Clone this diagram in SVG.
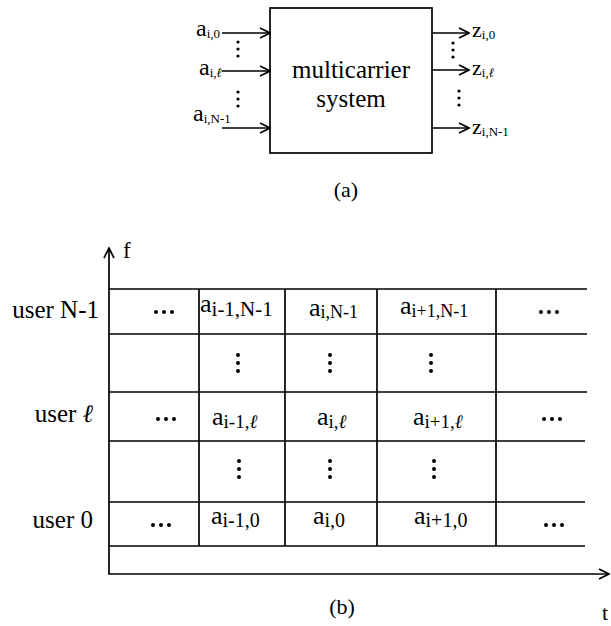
<svg xmlns="http://www.w3.org/2000/svg" width="611" height="626" viewBox="0 0 611 626" font-family="'Liberation Serif', 'DejaVu Serif', serif">
  <style>
    text { font-family: 'Liberation Serif', 'DejaVu Serif', serif; fill: #000; }
    .ln { stroke: #000; stroke-width: 1.7; fill: none; }
    .arr { stroke: #000; stroke-width: 1.7; fill: none; marker-end: url(#head); }
    .dot { fill: #000; }
    .it { font-style: italic; }
  </style>
  <defs>
    <marker id="head" viewBox="0 0 12 12" refX="11" refY="6" markerWidth="12" markerHeight="12" markerUnits="userSpaceOnUse" orient="auto">
      <path d="M1,1 L11,6 L1,11" fill="none" stroke="#000" stroke-width="1.7"/>
    </marker>
    <g id="hdots">
      <circle class="dot" cx="-8" cy="0" r="2"/>
      <circle class="dot" cx="0" cy="0" r="2"/>
      <circle class="dot" cx="8" cy="0" r="2"/>
    </g>
    <g id="vdots">
      <circle class="dot" cx="0" cy="-8" r="2"/>
      <circle class="dot" cx="0" cy="0" r="2"/>
      <circle class="dot" cx="0" cy="8" r="2"/>
    </g>
    <g id="vdots-s">
      <circle class="dot" cx="0" cy="-7" r="1.6"/>
      <circle class="dot" cx="0" cy="0" r="1.6"/>
      <circle class="dot" cx="0" cy="7" r="1.6"/>
    </g>
  </defs>
  <rect width="611" height="626" fill="#fff"/>

  <!-- (a) multicarrier system block -->
  <g id="system">
    <rect class="ln" x="270" y="8" width="162" height="145"/>
    <text x="351" y="78" font-size="25" text-anchor="middle">multicarrier</text>
    <text x="351" y="107" font-size="25" text-anchor="middle">system</text>
  </g>
  <g id="inputs">
    <text x="196" y="36" font-size="24">a<tspan font-size="13" dy="2">i,0</tspan></text>
    <text x="199" y="75" font-size="24">a<tspan font-size="13" dy="2">i,<tspan class="it">ℓ</tspan></tspan></text>
    <text x="193" y="121" font-size="24">a<tspan font-size="13" dy="2">i,N-1</tspan></text>
    <use href="#vdots-s" x="238" y="49"/>
    <use href="#vdots-s" x="238" y="99"/>
  </g>
  <g id="outputs">
    <text x="472" y="37" font-size="22">z<tspan font-size="13" dy="2">i,0</tspan></text>
    <text x="472" y="75" font-size="22">z<tspan font-size="13" dy="2">i,<tspan class="it">ℓ</tspan></tspan></text>
    <text x="472" y="134" font-size="22">z<tspan font-size="13" dy="2">i,N-1</tspan></text>
    <use href="#vdots-s" x="453" y="50"/>
    <use href="#vdots-s" x="459" y="98"/>
  </g>
  <g id="connectors">
    <line class="arr" x1="222" y1="33" x2="270" y2="33"/>
    <line class="arr" x1="222" y1="71" x2="270" y2="71"/>
    <line class="arr" x1="222" y1="128" x2="270" y2="128"/>
    <line class="arr" x1="432" y1="33" x2="469" y2="33"/>
    <line class="arr" x1="432" y1="70" x2="469" y2="70"/>
    <line class="arr" x1="432" y1="128" x2="469" y2="128"/>
  </g>
  <text x="346" y="197" font-size="22" text-anchor="middle">(a)</text>

  <!-- (b) time-frequency grid -->
  <g id="axes">
    <line class="arr" x1="109" y1="574" x2="109" y2="248"/>
    <line class="arr" x1="108.2" y1="574" x2="609" y2="574"/>
    <text x="123" y="258" font-size="23">f</text>
    <text x="602" y="620" font-size="22">t</text>
  </g>
  <g id="grid">
    <line class="ln" x1="109" y1="289" x2="587" y2="289"/>
    <line class="ln" x1="109" y1="334" x2="587" y2="334"/>
    <line class="ln" x1="109" y1="392" x2="587" y2="392"/>
    <line class="ln" x1="109" y1="441" x2="585" y2="441"/>
    <line class="ln" x1="109" y1="502" x2="585" y2="502"/>
    <line class="ln" x1="109" y1="546" x2="585" y2="546"/>
    <line class="ln" x1="199" y1="289" x2="199" y2="546"/>
    <line class="ln" x1="285" y1="289" x2="285" y2="546"/>
    <line class="ln" x1="377" y1="289" x2="377" y2="546"/>
    <line class="ln" x1="496" y1="289" x2="496" y2="546"/>
  </g>
  <g id="users">
    <text x="99" y="318" font-size="25" text-anchor="end">user N-1</text>
    <text x="93" y="422" font-size="25" text-anchor="end">user <tspan class="it">ℓ</tspan></text>
    <text x="93" y="528" font-size="25" text-anchor="end">user 0</text>
  </g>
  <g id="row-N-1">
    <use href="#hdots" x="164" y="312"/>
    <text x="200" y="312" font-size="26">a<tspan font-size="21" dy="4">i-1,N-1</tspan></text>
    <text x="309" y="316" font-size="26">a<tspan font-size="18" dy="2">i,N-1</tspan></text>
    <text x="400" y="314" font-size="26">a<tspan font-size="18" dy="3">i+1,N-1</tspan></text>
    <use href="#hdots" x="549" y="312"/>
  </g>
  <g id="row-gap-upper">
    <use href="#vdots" x="238" y="363"/>
    <use href="#vdots" x="330" y="363"/>
    <use href="#vdots" x="431" y="363"/>
  </g>
  <g id="row-l">
    <use href="#hdots" x="166" y="419"/>
    <text x="212" y="425" font-size="26">a<tspan font-size="19" dy="3">i-1,<tspan class="it">ℓ</tspan></tspan></text>
    <text x="317" y="425" font-size="26">a<tspan font-size="19" dy="3">i,<tspan class="it">ℓ</tspan></tspan></text>
    <text x="413" y="425" font-size="26">a<tspan font-size="19" dy="3">i+1,<tspan class="it">ℓ</tspan></tspan></text>
    <use href="#hdots" x="552" y="419"/>
  </g>
  <g id="row-gap-lower">
    <use href="#vdots" x="239" y="469"/>
    <use href="#vdots" x="330" y="469"/>
    <use href="#vdots" x="434" y="469"/>
  </g>
  <g id="row-0">
    <use href="#hdots" x="161" y="525"/>
    <text x="211" y="524" font-size="26">a<tspan font-size="20" dy="3">i-1,0</tspan></text>
    <text x="313" y="524" font-size="26">a<tspan font-size="20" dy="3">i,0</tspan></text>
    <text x="414" y="524" font-size="26">a<tspan font-size="20" dy="3">i+1,0</tspan></text>
    <use href="#hdots" x="554" y="525"/>
  </g>
  <text x="342" y="614" font-size="22" text-anchor="middle">(b)</text>
</svg>
